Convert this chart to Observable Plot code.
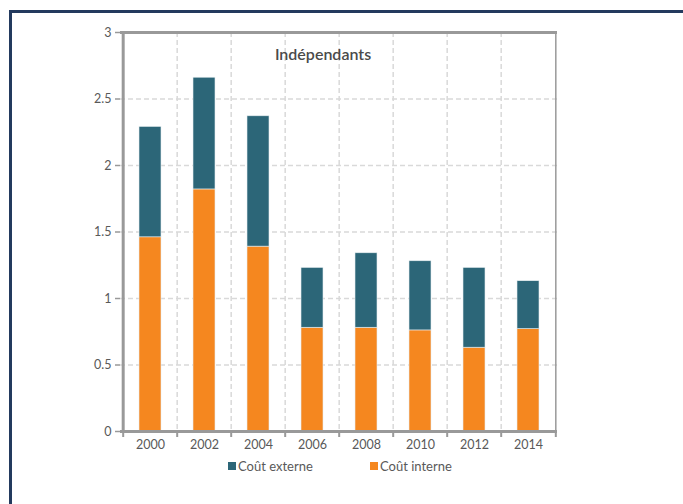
<!DOCTYPE html>
<html>
<head>
<meta charset="utf-8">
<script src="https://cdn.jsdelivr.net/npm/d3@7"></script>
<script src="https://cdn.jsdelivr.net/npm/@observablehq/plot@0.6"></script>
<style>
  html, body { margin: 0; padding: 0; background: #fff; }
  #wrap { position: relative; width: 683px; height: 504px; overflow: hidden; font-family: Lato, "Liberation Sans", sans-serif; }
  #border { position: absolute; left: 9px; top: 10px; right: -10px; bottom: -10px; border-left: 3px solid #233a5e; border-top: 3px solid #233a5e; }
  #chart { position: absolute; left: 0; top: 0; }
  #legend { position: absolute; top: 458px; left: 228px; font-size: 13px; color: #595959; display: flex; gap: 0; }
  .item { display: flex; align-items: center; }
  .sw { width: 8px; height: 8px; margin-right: 2px; }
</style>
</head>
<body>
<div id="wrap">
  <div id="border"></div>
  <div id="chart"></div>
  <div id="legend"></div>
</div>
<script>
const years = ["2000", "2002", "2004", "2006", "2008", "2010", "2012", "2014"];
const coutInterne = [1.46, 1.82, 1.39, 0.78, 0.78, 0.76, 0.63, 0.77];
const coutTotal   = [2.29, 2.66, 2.37, 1.23, 1.34, 1.28, 1.23, 1.13];
const coutExterne = coutTotal.map((t, i) => +(t - coutInterne[i]).toFixed(2));
const seriesNames = ["Coût interne", "Coût externe"];
const seriesColors = ["#f5871f", "#2c6678"];
const yTicks = [0, 0.5, 1, 1.5, 2, 2.5, 3];
const title = "Indépendants";

const rows = [];
years.forEach((y, i) => {
  rows.push({year: y, serie: seriesNames[0], value: coutInterne[i]});
  rows.push({year: y, serie: seriesNames[1], value: coutExterne[i]});
});

const step = (557 - 120) / years.length;
const gray = "#999";
const grid = "#d9d9d9";

const chart = Plot.plot({
  width: 683,
  height: 504,
  marginLeft: 120,
  marginRight: 126,
  marginTop: 32,
  marginBottom: 73,
  style: {fontFamily: "Lato, 'Liberation Sans', sans-serif", fontSize: "12.5px", color: "#595959", background: "transparent"},
  x: {type: "band", domain: years, paddingInner: 0.6, paddingOuter: 0.3, label: null},
  y: {domain: [0, 3], label: null},
  color: {domain: seriesNames, range: seriesColors},
  marks: [
    Plot.gridY(yTicks, {stroke: grid, strokeOpacity: 1, strokeWidth: 1.5, strokeDasharray: "5,3"}),
    Plot.ruleX(years.slice(1), {x: d => d, dx: -step / 2, stroke: grid, strokeWidth: 1.5, strokeDasharray: "5,3"}),
    Plot.barY(rows, {x: "year", y: "value", fill: "serie", order: seriesNames, stroke: "#e6eef0", strokeWidth: 0.6}),
    Plot.axisY(yTicks, {tickSize: 5, tickPadding: 4, stroke: gray, strokeWidth: 1.5, tickFormat: d => String(d), fill: "#595959", fontSize: 12.5}),
    Plot.axisX({tickSize: 0, tickPadding: 9, fill: "#595959", fontSize: 12.5}),
    Plot.ruleX(years, {x: d => d, dx: -step / 2, y1: 0, y2: 0, insetBottom: -6, stroke: gray, strokeWidth: 2}),
    Plot.ruleX(years.slice(-1), {x: d => d, dx: step / 2, y1: 0, y2: 0, insetBottom: -6, stroke: gray, strokeWidth: 2}),
    Plot.ruleX(years.slice(0, 1), {x: d => d, dx: -step / 2, stroke: gray, strokeWidth: 3}),
    Plot.ruleX(years.slice(-1), {x: d => d, dx: step / 2, stroke: gray, strokeWidth: 1.5}),
    Plot.ruleY([0, 3], {stroke: gray, strokeWidth: 3}),
    Plot.text([title], {frameAnchor: "top", dy: 16, dx: -16, fontSize: 16, fontWeight: 600, fill: "#4a4a4a"})
  ]
});
document.getElementById("chart").appendChild(chart);

const legend = document.getElementById("legend");
[["Coût externe", seriesColors[1], 142], ["Coût interne", seriesColors[0], 0]].forEach(([name, color, w]) => {
  const it = document.createElement("div");
  it.className = "item";
  if (w) it.style.width = w + "px";
  it.innerHTML = `<span class="sw" style="background:${color}"></span><span>${name}</span>`;
  legend.appendChild(it);
});
</script>
</body>
</html>
